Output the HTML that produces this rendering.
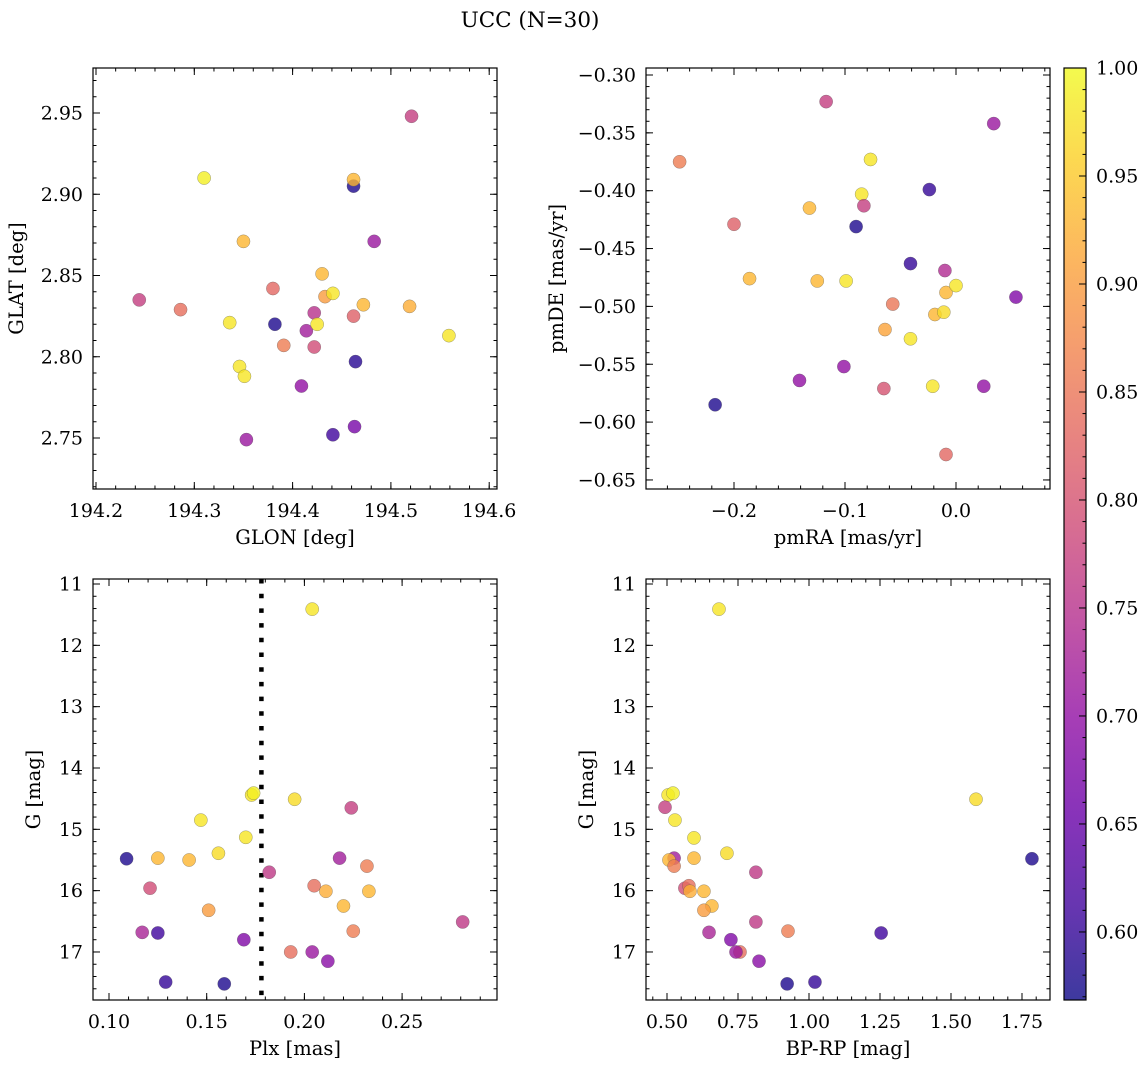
<!DOCTYPE html>
<html><head><meta charset="utf-8">
<style>
html,body{margin:0;padding:0;background:#fff;}
svg{display:block;font-family:"DejaVu Serif","Liberation Serif",serif;}
</style></head>
<body>
<svg id="fig" width="1148" height="1067" viewBox="0 0 1148 1067" xmlns="http://www.w3.org/2000/svg">
<text x="530" y="27" font-size="21.5" text-anchor="middle">UCC (N=30)</text>
</svg>
<script>
// ---- Panel 1: GLON vs GLAT ----
const glon = [194.244,194.286,194.310,194.336,194.346,194.351,194.350,194.353,194.380,194.382,194.391,194.409,194.414,194.422,194.422,194.425,194.430,194.433,194.441,194.441,194.462,194.462,194.462,194.464,194.463,194.483,194.472,194.519,194.521,194.559];
const glat = [2.835,2.829,2.910,2.821,2.794,2.788,2.871,2.749,2.842,2.820,2.807,2.782,2.816,2.827,2.806,2.820,2.851,2.837,2.839,2.752,2.905,2.909,2.825,2.797,2.757,2.871,2.832,2.831,2.948,2.813];
const probPos = [0.77,0.84,0.99,0.98,0.98,0.98,0.93,0.71,0.83,0.58,0.86,0.70,0.72,0.75,0.79,0.98,0.93,0.90,0.98,0.61,0.58,0.93,0.82,0.59,0.67,0.71,0.93,0.92,0.77,0.98];
const glonTicks = [194.2,194.3,194.4,194.5,194.6];
const glatTicks = [2.75,2.80,2.85,2.90,2.95];
// ---- Panel 2: pmRA vs pmDE ----
const pmra = [-0.249,-0.200,-0.217,-0.186,-0.141,-0.132,-0.125,-0.117,-0.101,-0.099,-0.090,-0.085,-0.083,-0.077,-0.064,-0.065,-0.057,-0.041,-0.041,-0.024,-0.021,-0.019,-0.011,-0.009,-0.010,-0.009,0.000,0.025,0.034,0.054];
const pmde = [-0.375,-0.429,-0.585,-0.476,-0.564,-0.415,-0.478,-0.323,-0.552,-0.478,-0.431,-0.403,-0.413,-0.373,-0.520,-0.571,-0.498,-0.463,-0.528,-0.399,-0.569,-0.507,-0.505,-0.488,-0.469,-0.628,-0.482,-0.569,-0.342,-0.492];
const probPm = [0.86,0.82,0.58,0.93,0.70,0.93,0.93,0.77,0.70,0.98,0.58,0.98,0.77,0.98,0.91,0.80,0.85,0.60,0.98,0.60,0.98,0.93,0.97,0.93,0.74,0.83,0.98,0.70,0.71,0.68];
const pmraTicks = [-0.2,-0.1,0.0];
const pmraTickLabels = ["\u22120.2","\u22120.1","0.0"];
const pmdeTicks = [-0.30,-0.35,-0.40,-0.45,-0.50,-0.55,-0.60,-0.65];
const pmdeTickLabels = ["\u22120.30","\u22120.35","\u22120.40","\u22120.45","\u22120.50","\u22120.55","\u22120.60","\u22120.65"];
// ---- Panel 3: Plx vs G ----
const plx = [0.204,0.173,0.174,0.195,0.224,0.147,0.170,0.156,0.109,0.125,0.141,0.218,0.182,0.232,0.121,0.205,0.211,0.233,0.220,0.151,0.281,0.117,0.125,0.225,0.169,0.193,0.204,0.212,0.129,0.159];
const gPlx = [11.41,14.44,14.41,14.51,14.65,14.85,15.13,15.39,15.48,15.47,15.50,15.47,15.70,15.60,15.96,15.92,16.01,16.01,16.25,16.32,16.51,16.68,16.69,16.66,16.80,17.00,17.00,17.15,17.49,17.52];
const probPlx = [0.98,0.98,0.99,0.97,0.77,0.98,0.98,0.97,0.58,0.93,0.93,0.72,0.76,0.86,0.79,0.84,0.92,0.93,0.93,0.90,0.76,0.73,0.61,0.86,0.68,0.84,0.71,0.69,0.60,0.58];
const plxLine = [0.178];
const plxTicks = [0.10,0.15,0.20,0.25];
const gTicks = [11,12,13,14,15,16,17];
// ---- Panel 4: BP-RP vs G ----
const bprp = [0.683,0.504,0.521,0.493,0.528,0.595,0.711,0.525,0.507,0.525,0.595,0.813,0.563,0.577,0.581,0.630,0.658,0.630,1.785,1.588,0.813,0.648,1.254,0.926,0.725,0.757,0.743,0.824,1.021,0.923];
const gCmd = [11.41,14.44,14.41,14.64,14.85,15.14,15.39,15.47,15.50,15.60,15.47,15.70,15.96,15.92,16.01,16.01,16.25,16.32,15.48,14.51,16.51,16.68,16.69,16.66,16.80,17.00,17.00,17.15,17.49,17.52];
const probCmd = [0.98,0.98,0.99,0.77,0.98,0.98,0.97,0.72,0.93,0.86,0.93,0.76,0.79,0.84,0.92,0.93,0.93,0.90,0.58,0.97,0.76,0.73,0.61,0.86,0.68,0.84,0.71,0.69,0.60,0.58];
const bprpTicks = [0.50,0.75,1.00,1.25,1.50,1.75];
// ---- Colorbar ----
const cbarTicks = [0.60,0.65,0.70,0.75,0.80,0.85,0.90,0.95,1.00];
const cbarMin = 0.5685, cbarMax = 1.0;

const FS = 19;
const NS = "http://www.w3.org/2000/svg";
const svg = document.getElementById('fig');
const plasma = [[13,8,135],[65,4,157],[106,0,168],[143,13,164],[177,42,144],[204,71,120],[225,100,98],[242,132,75],[252,166,54],[252,206,37],[240,249,33]];
function cmap(t){
  t = Math.max(0, Math.min(1, t));
  const f = t*10, i = Math.min(9, Math.floor(f)), r = f - i;
  const a = plasma[i], b = plasma[i+1];
  return 'rgb(' + a.map((v,k)=>Math.round(v+(b[k]-v)*r)).join(',') + ')';
}
function el(tag, attrs, parent){
  const e = document.createElementNS(NS, tag);
  for (const k in attrs) e.setAttribute(k, attrs[k]);
  (parent||svg).appendChild(e);
  return e;
}
function fmt(v, d){ const s = v.toFixed(d); return s.startsWith('-') ? '\u2212' + s.slice(1) : s; }

function panel(cfg){
  const g = el('g', {});
  
  
  const {L,R,T,B} = cfg;
  const sx = v => L + (v - cfg.x0) / (cfg.x1 - cfg.x0) * (R - L);
  const sy = v => cfg.yInv ? T + (v - cfg.y0) / (cfg.y1 - cfg.y0) * (B - T)
                           : B - (v - cfg.y0) / (cfg.y1 - cfg.y0) * (B - T);
  const eps = 1e-9;
  for (let v = Math.ceil(cfg.x0/cfg.xm - eps)*cfg.xm; v <= cfg.x1 + eps; v += cfg.xm){
    const x = sx(v);
    el('line',{x1:x,x2:x,y1:B,y2:B-3.5,stroke:'#000','stroke-width':1},g);
    el('line',{x1:x,x2:x,y1:T,y2:T+3.5,stroke:'#000','stroke-width':1},g);
  }
  for (let v = Math.ceil(cfg.y0/cfg.ym - eps)*cfg.ym; v <= cfg.y1 + eps; v += cfg.ym){
    const y = sy(v);
    el('line',{x1:L,x2:L+3.5,y1:y,y2:y,stroke:'#000','stroke-width':1},g);
    el('line',{x1:R,x2:R-3.5,y1:y,y2:y,stroke:'#000','stroke-width':1},g);
  }
  cfg.xt.forEach((v,i)=>{
    const x = sx(v);
    el('line',{x1:x,x2:x,y1:B,y2:B-7,stroke:'#000','stroke-width':1},g);
    el('line',{x1:x,x2:x,y1:T,y2:T+7,stroke:'#000','stroke-width':1},g);
    const t = el('text',{x:x,y:B+28,'font-size':FS,'text-anchor':'middle'},g);
    
    
    t.textContent = cfg.xl ? cfg.xl[i] : fmt(v, cfg.xd);
  });
  cfg.yt.forEach((v,i)=>{
    const y = sy(v);
    el('line',{x1:L,x2:L+7,y1:y,y2:y,stroke:'#000','stroke-width':1},g);
    el('line',{x1:R,x2:R-7,y1:y,y2:y,stroke:'#000','stroke-width':1},g);
    const t = el('text',{x:L-10,y:y+6.5,'font-size':FS,'text-anchor':'end'},g);
    
    
    t.textContent = cfg.yl ? cfg.yl[i] : fmt(v, cfg.yd);
  });
  if (cfg.vline){
    cfg.vline.forEach(v=>{
      const l = el('line',{x1:sx(v),x2:sx(v),y1:T,y2:B,stroke:'#000','stroke-width':4.5,'stroke-dasharray':'4.5 10.2'},g);
      
      
    });
  }
  cfg.xs.forEach((xv,i)=>{
    const c = el('circle',{cx:sx(xv),cy:sy(cfg.ys[i]),r:6.6,fill:cmap((cfg.p[i]-cbarMin)/(cbarMax-cbarMin)),'fill-opacity':0.8,stroke:'rgba(80,80,80,0.55)','stroke-width':0.5},g);
    
    
  });
  const fr = el('rect',{x:L,y:T,width:R-L,height:B-T,fill:'none',stroke:'#000','stroke-width':1.2},g);
  
  
  const xlab = el('text',{x:(L+R)/2,y:B+55,'font-size':FS+0.5,'text-anchor':'middle'},g);
  
  
  xlab.textContent = cfg.xlabel;
  const ylab = el('text',{x:0,y:0,'font-size':FS+0.5,'text-anchor':'middle',transform:'translate('+cfg.ylx+','+((T+B)/2)+') rotate(-90)'},g);
  
  
  ylab.textContent = cfg.ylabel;
}

panel({name:'glon-glat-panel',L:93,R:497,T:68,B:489,
  x0:194.2-3/983,x1:194.2+401/983,y0:2.95-376/1625,y1:2.95+45/1625,
  xt:glonTicks,xd:1,xm:0.02,yt:glatTicks,yd:2,ym:0.01,
  xs:glon,ys:glat,p:probPos,xlabel:'GLON [deg]',ylabel:'GLAT [deg]',ylx:23});
panel({name:'pm-panel',L:646,R:1050,T:68,B:489,
  x0:-310/1110,x1:94/1110,y0:-0.30-414/1157,y1:-0.30+7/1157,
  xt:pmraTicks,xl:pmraTickLabels,xm:0.02,yt:pmdeTicks,yl:pmdeTickLabels,ym:0.01,
  xs:pmra,ys:pmde,p:probPm,xlabel:'pmRA [mas/yr]',ylabel:'pmDE [mas/yr]',ylx:563});
panel({name:'plx-g-panel',L:93,R:497,T:579,B:1000,yInv:true,
  x0:0.10-16/1954,x1:0.10+388/1954,y0:11-5/61.33,y1:11+416/61.33,
  xt:plxTicks,xd:2,xm:0.01,yt:gTicks,yd:0,ym:0.2,vline:plxLine,
  xs:plx,ys:gPlx,p:probPlx,xlabel:'Plx [mas]',ylabel:'G [mag]',ylx:40});
panel({name:'cmd-panel',L:646,R:1050,T:579,B:1000,yInv:true,
  x0:0.5-21/284,x1:0.5+383/284,y0:11-5/61.33,y1:11+416/61.33,
  xt:bprpTicks,xd:2,xm:0.05,yt:gTicks,yd:0,ym:0.2,
  xs:bprp,ys:gCmd,p:probCmd,xlabel:'BP-RP [mag]',ylabel:'G [mag]',ylx:593});

(function(){
  const L=1064,R=1086,T=68,B=1000;
  const defs = el('defs',{});
  const lg = el('linearGradient',{id:'plasmaGrad',x1:0,y1:1,x2:0,y2:0},defs);
  plasma.forEach((c,i)=>{ el('stop',{offset:(i/10),'stop-color':'rgb('+c.join(',')+')','stop-opacity':0.8},lg); });
  const g = el('g',{});
  
  
  el('rect',{x:L,y:T,width:R-L,height:B-T,fill:'url(#plasmaGrad)',stroke:'#000','stroke-width':1.2},g);
  const sy = v => B - (v-cbarMin)/(cbarMax-cbarMin)*(B-T);
  for (let k = 57; k <= 100; k++){
    const v = k/100, y = sy(v);
    el('line',{x1:R,x2:R-3.5,y1:y,y2:y,stroke:'#000','stroke-width':1},g);
  }
  cbarTicks.forEach(v=>{
    const y = sy(v);
    el('line',{x1:R,x2:R-7,y1:y,y2:y,stroke:'#000','stroke-width':1},g);
    const t = el('text',{x:R+10,y:y+6.5,'font-size':FS},g);
    
    
    t.textContent = v.toFixed(2);
  });
})();
</script>
</body></html>
